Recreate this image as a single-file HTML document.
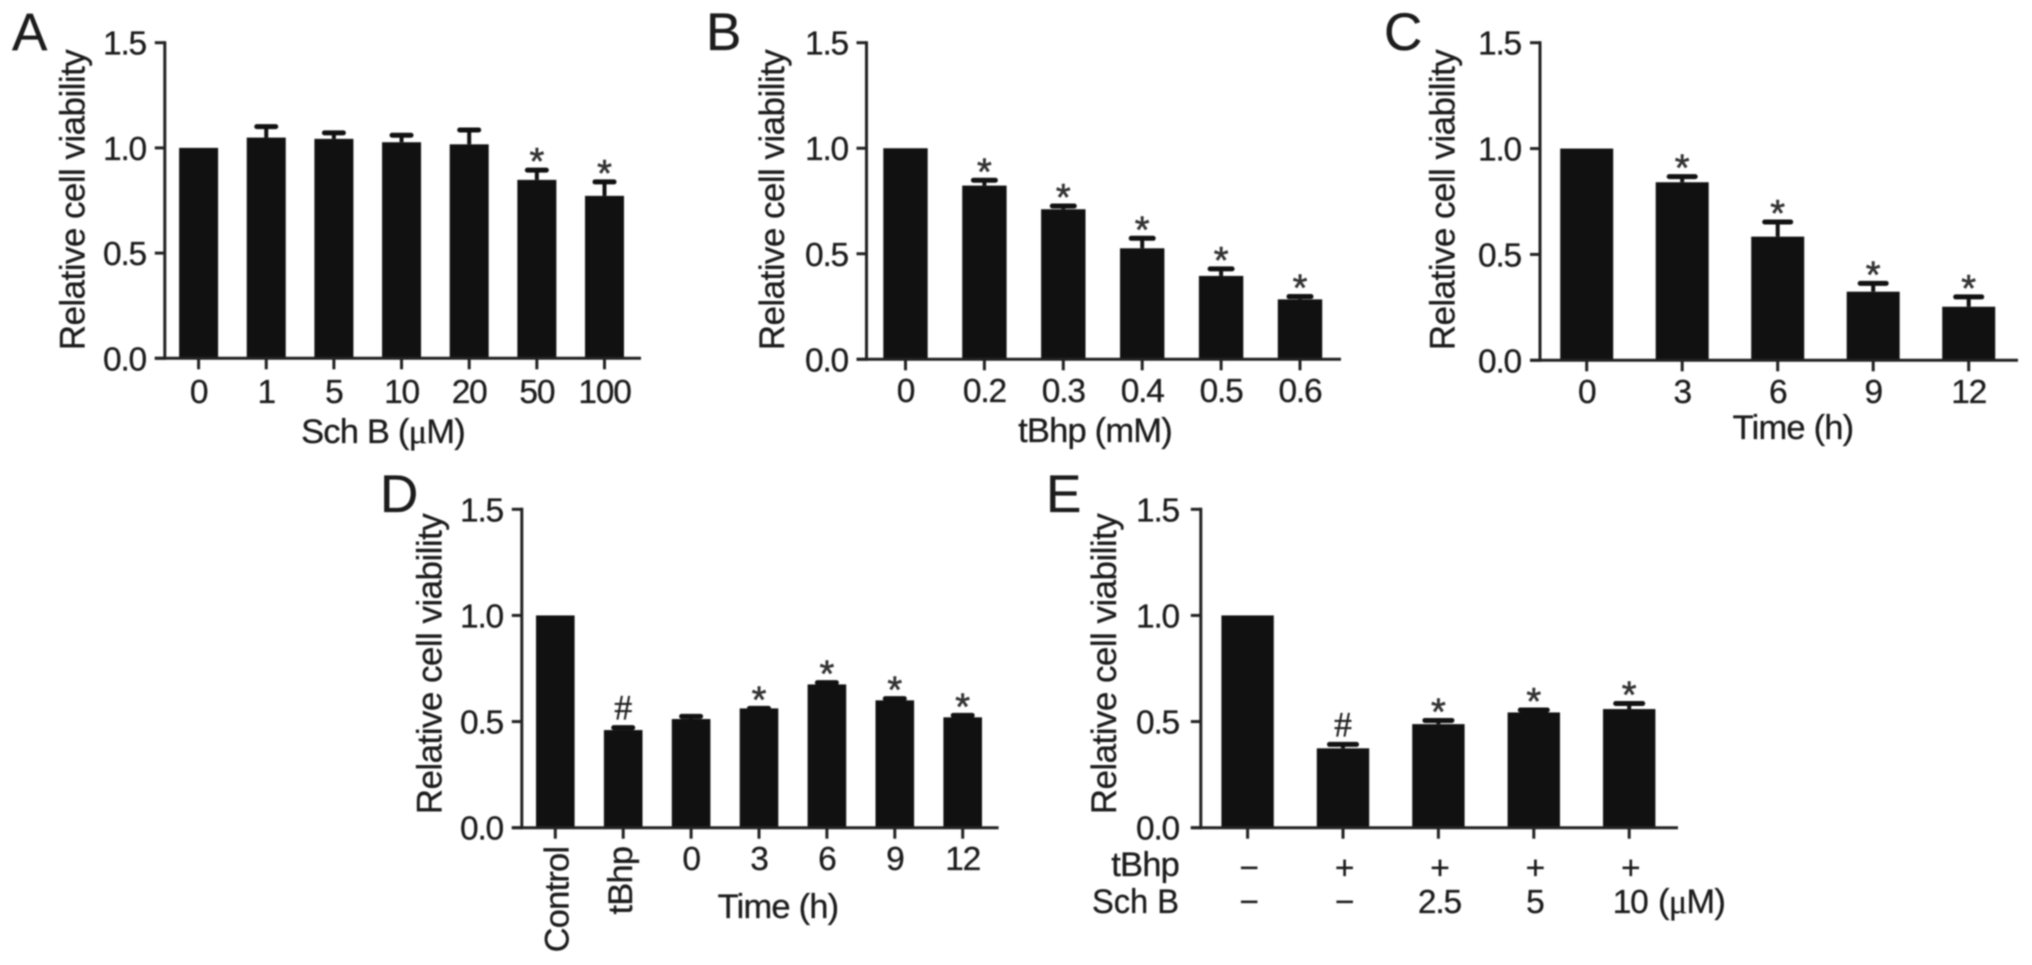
<!DOCTYPE html>
<html lang="en">
<head>
<meta charset="utf-8">
<title>Relative cell viability panels A-E</title>
<style>
  html, body { margin: 0; padding: 0; background: #fff; }
  body { width: 2032px; height: 965px; overflow: hidden; }
  svg { display: block; filter: blur(0.7px); }
  text { font-family: "Liberation Sans", sans-serif; fill: #1c1c1c; stroke: #1c1c1c; stroke-width: 0.3px; }
  .tick { letter-spacing: -1.2px; }
  .title { letter-spacing: -0.8px; }
  .ytitle { letter-spacing: -0.55px; }
  .mu { font-family: "Liberation Serif", serif; }
</style>
</head>
<body>
<svg id="figure" xmlns="http://www.w3.org/2000/svg" width="2032" height="965" viewBox="0 0 2032 965">
  <text x="12" y="50" font-size="53">A</text>
  <text x="706" y="50" font-size="53">B</text>
  <text x="1384" y="50" font-size="53">C</text>
  <text x="380" y="512" font-size="53">D</text>
  <text x="1046" y="512" font-size="53">E</text>
  <text class="title" x="383" y="443" font-size="34.5" text-anchor="middle">Sch B (<tspan class="mu">&#956;</tspan>M)</text>
  <text class="title" x="1095" y="442" font-size="34.5" text-anchor="middle">tBhp (mM)</text>
  <text class="title" x="1793" y="439" font-size="34.5" text-anchor="middle">Time (h)</text>
  <text class="title" x="778" y="918" font-size="34.5" text-anchor="middle">Time (h)</text>
  <text class="title" x="1179" y="876" font-size="34.5" text-anchor="end">tBhp</text>
  <text x="1179" y="913" font-size="34.5" text-anchor="end" textLength="87" lengthAdjust="spacingAndGlyphs">Sch B</text>
  <text class="title" x="1658" y="913" font-size="34.5">(<tspan class="mu">&#956;</tspan>M)</text>
</svg>
<script>
const yTickValues = [0, 0.5, 1, 1.5];
const yTickLabels = ['0.0', '0.5', '1.0', '1.5'];

const panelACategories = ['0', '1', '5', '10', '20', '50', '100'];
const panelAValues = [1.0, 1.049, 1.043, 1.027, 1.017, 0.848, 0.772];
const panelAErrorTops = [1.0, 1.106, 1.076, 1.065, 1.09, 0.899, 0.843];
const panelAMarks = ['', '', '', '', '', '*', '*'];

const panelBCategories = ['0', '0.2', '0.3', '0.4', '0.5', '0.6'];
const panelBValues = [1.0, 0.823, 0.711, 0.526, 0.395, 0.284];
const panelBErrorTops = [1.0, 0.853, 0.731, 0.578, 0.433, 0.302];
const panelBMarks = ['', '*', '*', '*', '*', '*'];

const panelCCategories = ['0', '3', '6', '9', '12'];
const panelCValues = [1.0, 0.841, 0.584, 0.324, 0.253];
const panelCErrorTops = [1.0, 0.872, 0.658, 0.368, 0.304];
const panelCMarks = ['', '*', '*', '*', '*'];

const panelDCategories = ['Control', 'tBhp', '0', '3', '6', '9', '12'];
const panelDValues = [1.0, 0.46, 0.512, 0.562, 0.675, 0.60, 0.52];
const panelDErrorTops = [1.0, 0.476, 0.529, 0.567, 0.688, 0.613, 0.534];
const panelDMarks = ['', '#', '', '*', '*', '*', '*'];

const panelETbhpRow = ['\u2212', '+', '+', '+', '+'];
const panelESchBRow = ['\u2212', '\u2212', '2.5', '5', '10'];
const panelEValues = [1.0, 0.374, 0.488, 0.543, 0.559];
const panelEErrorTops = [1.0, 0.397, 0.51, 0.559, 0.59];
const panelEMarks = ['', '#', '*', '*', '*'];

const svgNS = 'http://www.w3.org/2000/svg';
const figure = document.getElementById('figure');

function shape(parent, tag, props, content) {
  const el = document.createElementNS(svgNS, tag);
  Object.keys(props).forEach(function (k) { el.setAttribute(k, props[k]); });
  if (content !== undefined) el.textContent = content;
  parent.appendChild(el);
  return el;
}

function drawPanel(p) {
  const yScale = function (v) { return p.y0 + (p.yTop - p.y0) * (v / 1.5); };
  const xScale = function (i) { return p.first + i * p.step; };

  const group = shape(figure, 'g', {});
  
  

  p.values.forEach(function (v, i) {
    const bar = shape(group, 'rect', { x: xScale(i) - (p.barWidth + 1) / 2, y: yScale(v), width: p.barWidth + 1, height: p.y0 - yScale(v), fill: '#111' });
    
    

    const topY = yScale(p.errors[i]);
    if (p.errors[i] > v) {
      const stem = shape(group, 'line', { x1: xScale(i), x2: xScale(i), y1: yScale(v), y2: topY, stroke: '#111', 'stroke-width': 4 });
      
      
      const cap = shape(group, 'line', { x1: xScale(i) - p.capWidth / 2, x2: xScale(i) + p.capWidth / 2, y1: topY + 1, y2: topY + 1, stroke: '#111', 'stroke-width': 5, 'stroke-linecap': 'round' });
      
      
    }

    const mark = p.marks[i];
    if (mark === '*') {
      const star = shape(group, 'text', { x: xScale(i), y: topY + 5, 'font-size': 38, 'text-anchor': 'middle', style: 'fill:#333;stroke:#333;stroke-width:0.6px' }, mark);
      
      
    } else if (mark === '#') {
      const hash = shape(group, 'text', { x: xScale(i), y: topY - 7, 'font-size': 36, 'text-anchor': 'middle', style: 'font-family:"Liberation Serif",serif;fill:#222;stroke:#222' }, mark);
      
      
    }

    const xTick = shape(group, 'line', { x1: xScale(i), x2: xScale(i), y1: p.y0, y2: p.y0 + 11, stroke: '#222', 'stroke-width': 3 });
    
    
  });

  const yAxis = shape(group, 'line', { x1: p.left, x2: p.left, y1: p.yTop - 1.5, y2: p.y0 + 1.5, stroke: '#222', 'stroke-width': 3 });
  
  
  const xAxis = shape(group, 'line', { x1: p.left - 10, x2: p.right, y1: p.y0, y2: p.y0, stroke: '#222', 'stroke-width': 3 });
  
  

  yTickValues.forEach(function (v, i) {
    const t = shape(group, 'line', { x1: p.left - 10, x2: p.left, y1: yScale(v), y2: yScale(v), stroke: '#222', 'stroke-width': 3 });
    
    
    const l = shape(group, 'text', { class: 'tick', x: p.yLabelRight, y: yScale(v) + 12, 'font-size': 33.5, 'text-anchor': 'end' }, yTickLabels[i]);
    
    
  });

  const title = shape(group, 'text', { class: 'ytitle', transform: 'translate(' + p.titleX + ',' + p.titleY + ') rotate(-90)', 'font-size': 35, 'text-anchor': 'middle' }, 'Relative cell viability');
  
  

  (p.categories || []).forEach(function (c, i) {
    let label;
    if (isNaN(Number(c))) {
      const bx = xScale(i) + (c === 'tBhp' ? 9 : 13);
      label = shape(group, 'text', { class: 'title', transform: 'translate(' + bx + ',' + (p.y0 + 19) + ') rotate(-90)', 'font-size': 34.5, 'text-anchor': 'end' }, c);
    } else {
      label = shape(group, 'text', { class: 'tick', x: xScale(i), y: p.xLabelY, 'font-size': 33.5, 'text-anchor': 'middle' }, c);
    }
    
    
  });

  (p.rowOne || []).forEach(function (c, i) {
    const a = shape(group, 'text', { class: 'tick', x: xScale(i) + 1, y: 879, 'font-size': 33.5, 'text-anchor': 'middle' }, c);
    
    
  });
  (p.rowTwo || []).forEach(function (c, i) {
    const b = shape(group, 'text', { class: 'tick', x: xScale(i) + 1, y: 913, 'font-size': 33.5, 'text-anchor': 'middle' }, c);
    
    
  });
}

drawPanel({ id: 'a', left: 164.8, right: 641, y0: 358.3, yTop: 42.7, first: 198.6, step: 67.65, barWidth: 38, capWidth: 19, yLabelRight: 146, titleX: 84.6, titleY: 200, xLabelY: 403, categories: panelACategories, values: panelAValues, errors: panelAErrorTops, marks: panelAMarks });
drawPanel({ id: 'b', left: 866.5, right: 1341, y0: 359.3, yTop: 42.7, first: 905.5, step: 78.9, barWidth: 43.4, capWidth: 22, yLabelRight: 848, titleX: 784, titleY: 200, xLabelY: 402, categories: panelBCategories, values: panelBValues, errors: panelBErrorTops, marks: panelBMarks });
drawPanel({ id: 'c', left: 1540, right: 2018, y0: 360.3, yTop: 42.7, first: 1586.7, step: 95.5, barWidth: 52, capWidth: 26, yLabelRight: 1521, titleX: 1454.3, titleY: 200, xLabelY: 403, categories: panelCCategories, values: panelCValues, errors: panelCErrorTops, marks: panelCMarks });
drawPanel({ id: 'd', left: 521.8, right: 998.6, y0: 827.7, yTop: 509.3, first: 555.3, step: 67.9, barWidth: 37.6, capWidth: 19, yLabelRight: 503, titleX: 441.4, titleY: 664, xLabelY: 870, categories: panelDCategories, values: panelDValues, errors: panelDErrorTops, marks: panelDMarks });
drawPanel({ id: 'e', left: 1200.8, right: 1678, y0: 827.7, yTop: 509.3, first: 1247.6, step: 95.4, barWidth: 51.4, capWidth: 27, yLabelRight: 1179, titleX: 1115.9, titleY: 664, rowOne: panelETbhpRow, rowTwo: panelESchBRow, values: panelEValues, errors: panelEErrorTops, marks: panelEMarks });
</script>
</body>
</html>
